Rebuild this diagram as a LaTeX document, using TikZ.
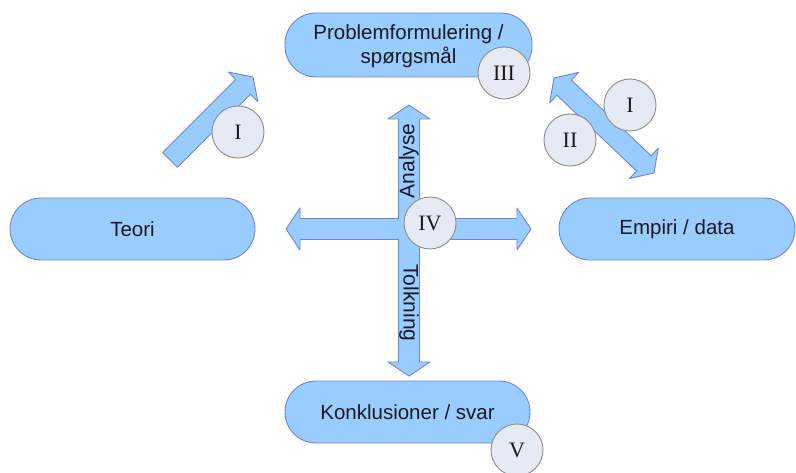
\documentclass[tikz,border=0pt]{standalone}
\usepackage{fontspec}
\setmainfont{Liberation Serif}
\setsansfont{Liberation Sans}
\usetikzlibrary{calc}

\definecolor{boxfill}{HTML}{99CCFF}
\definecolor{boxline}{HTML}{6F86D6}
\definecolor{discfill}{HTML}{E6EAF4}
\definecolor{discline}{HTML}{8C8C8C}
\definecolor{inktext}{HTML}{1A1A22}

\tikzset{
  topic/.style={draw=boxline, fill=boxfill, line width=0.9pt,
    rounded corners=31pt, minimum width=245pt, minimum height=62pt,
    inner sep=0pt, align=center, text=inktext,
    font=\sffamily\fontsize{20.5}{24}\selectfont},
  phase/.style={circle, draw=discline, fill=discfill, line width=0.9pt,
    minimum size=52pt, inner sep=0pt, text=inktext,
    font=\rmfamily\fontsize{22}{24}\selectfont},
  blockarrow/.style={draw=boxline, fill=boxfill, line width=0.9pt,
    line join=round},
  shafttext/.style={text=inktext, inner sep=0pt,
    font=\sffamily\fontsize{21}{24}\selectfont}
}

% block arrow with one head: #1 tail, #2 tip
\newcommand\onewayarrow[2]{%
  \path ($(#2)!14pt!(#1)$) coordinate (hb);
  \draw[blockarrow]
    ($(#1)!10.5pt!90:(#2)$) -- ($(hb)!10.5pt!-90:(#1)$)
    -- ($(hb)!21pt!-90:(#1)$) -- (#2)
    -- ($(hb)!21pt!90:(#1)$) -- ($(hb)!10.5pt!90:(#1)$)
    -- ($(#1)!10.5pt!-90:(#2)$) -- cycle;}

% block arrow with two heads between #1 and #2
\newcommand\twowayarrow[2]{%
  \path ($(#2)!14pt!(#1)$) coordinate (hb);
  \path ($(#1)!14pt!(#2)$) coordinate (ha);
  \draw[blockarrow]
    (#1) -- ($(ha)!21pt!90:(#2)$) -- ($(ha)!10.5pt!90:(#2)$)
    -- ($(hb)!10.5pt!-90:(#1)$) -- ($(hb)!21pt!-90:(#1)$) -- (#2)
    -- ($(hb)!21pt!90:(#1)$) -- ($(hb)!10.5pt!90:(#1)$)
    -- ($(ha)!10.5pt!-90:(#2)$) -- ($(ha)!21pt!-90:(#2)$) -- cycle;}

\begin{document}
\begin{tikzpicture}[x=1pt, y=-1pt]
  \useasboundingbox (0,0) rectangle (796,473);

  % topic boxes
  \node[topic, minimum width=247pt, minimum height=64pt] (prob) at (408.5,45)
    {};
  \node[align=center, text=inktext, inner sep=0pt,
    font=\sffamily\fontsize{20.5}{24}\selectfont] (probtext) at (408.5,46)
    {Problemformulering /\\spørgsmål};
  \node[topic] (teori) at (132.5,229) {Teori};
  \node[topic, minimum width=236pt] (empiri) at (677,229) {Empiri / data};
  \node[topic] (konk) at (407.5,412) {Konklusioner / svar};

  % diagonal arrows
  \coordinate (ulTail) at (170,160);
  \coordinate (ulTip) at (253,77);
  \onewayarrow{ulTail}{ulTip}
  \coordinate (urA) at (554,78);
  \coordinate (urB) at (654,173);
  \twowayarrow{urA}{urB}

  % four-way cross at the centre
  \coordinate (cx) at (409,229);
  \draw[blockarrow]
    (531,229) -- (517,208) -- (517,218.5) -- (419.5,218.5)
    -- (419.5,119) -- (430,119) -- (409,105) -- (388,119) -- (398.5,119)
    -- (398.5,218.5) -- (300,218.5) -- (300,208) -- (286,229)
    -- (300,250) -- (300,239.5) -- (398.5,239.5)
    -- (398.5,362) -- (388,362) -- (409,376) -- (430,362) -- (419.5,362)
    -- (419.5,239.5) -- (517,239.5) -- (517,250) -- cycle;
  \node[shafttext, rotate=90] (analyse) at (409,161) {Analyse};
  \node[shafttext, rotate=-90] (tolk) at (409,303) {Tolkning};

  % phase markers
  \node[phase] (p1a) at (238,132) {I};
  \node[phase] (p3) at (504,73) {III};
  \node[phase] (p1b) at (630,105) {I};
  \node[phase] (p2) at (570,140) {II};
  \node[phase] (p4) at (430,223) {IV};
  \node[phase] (p5) at (517,450) {V};
\end{tikzpicture}
\end{document}
